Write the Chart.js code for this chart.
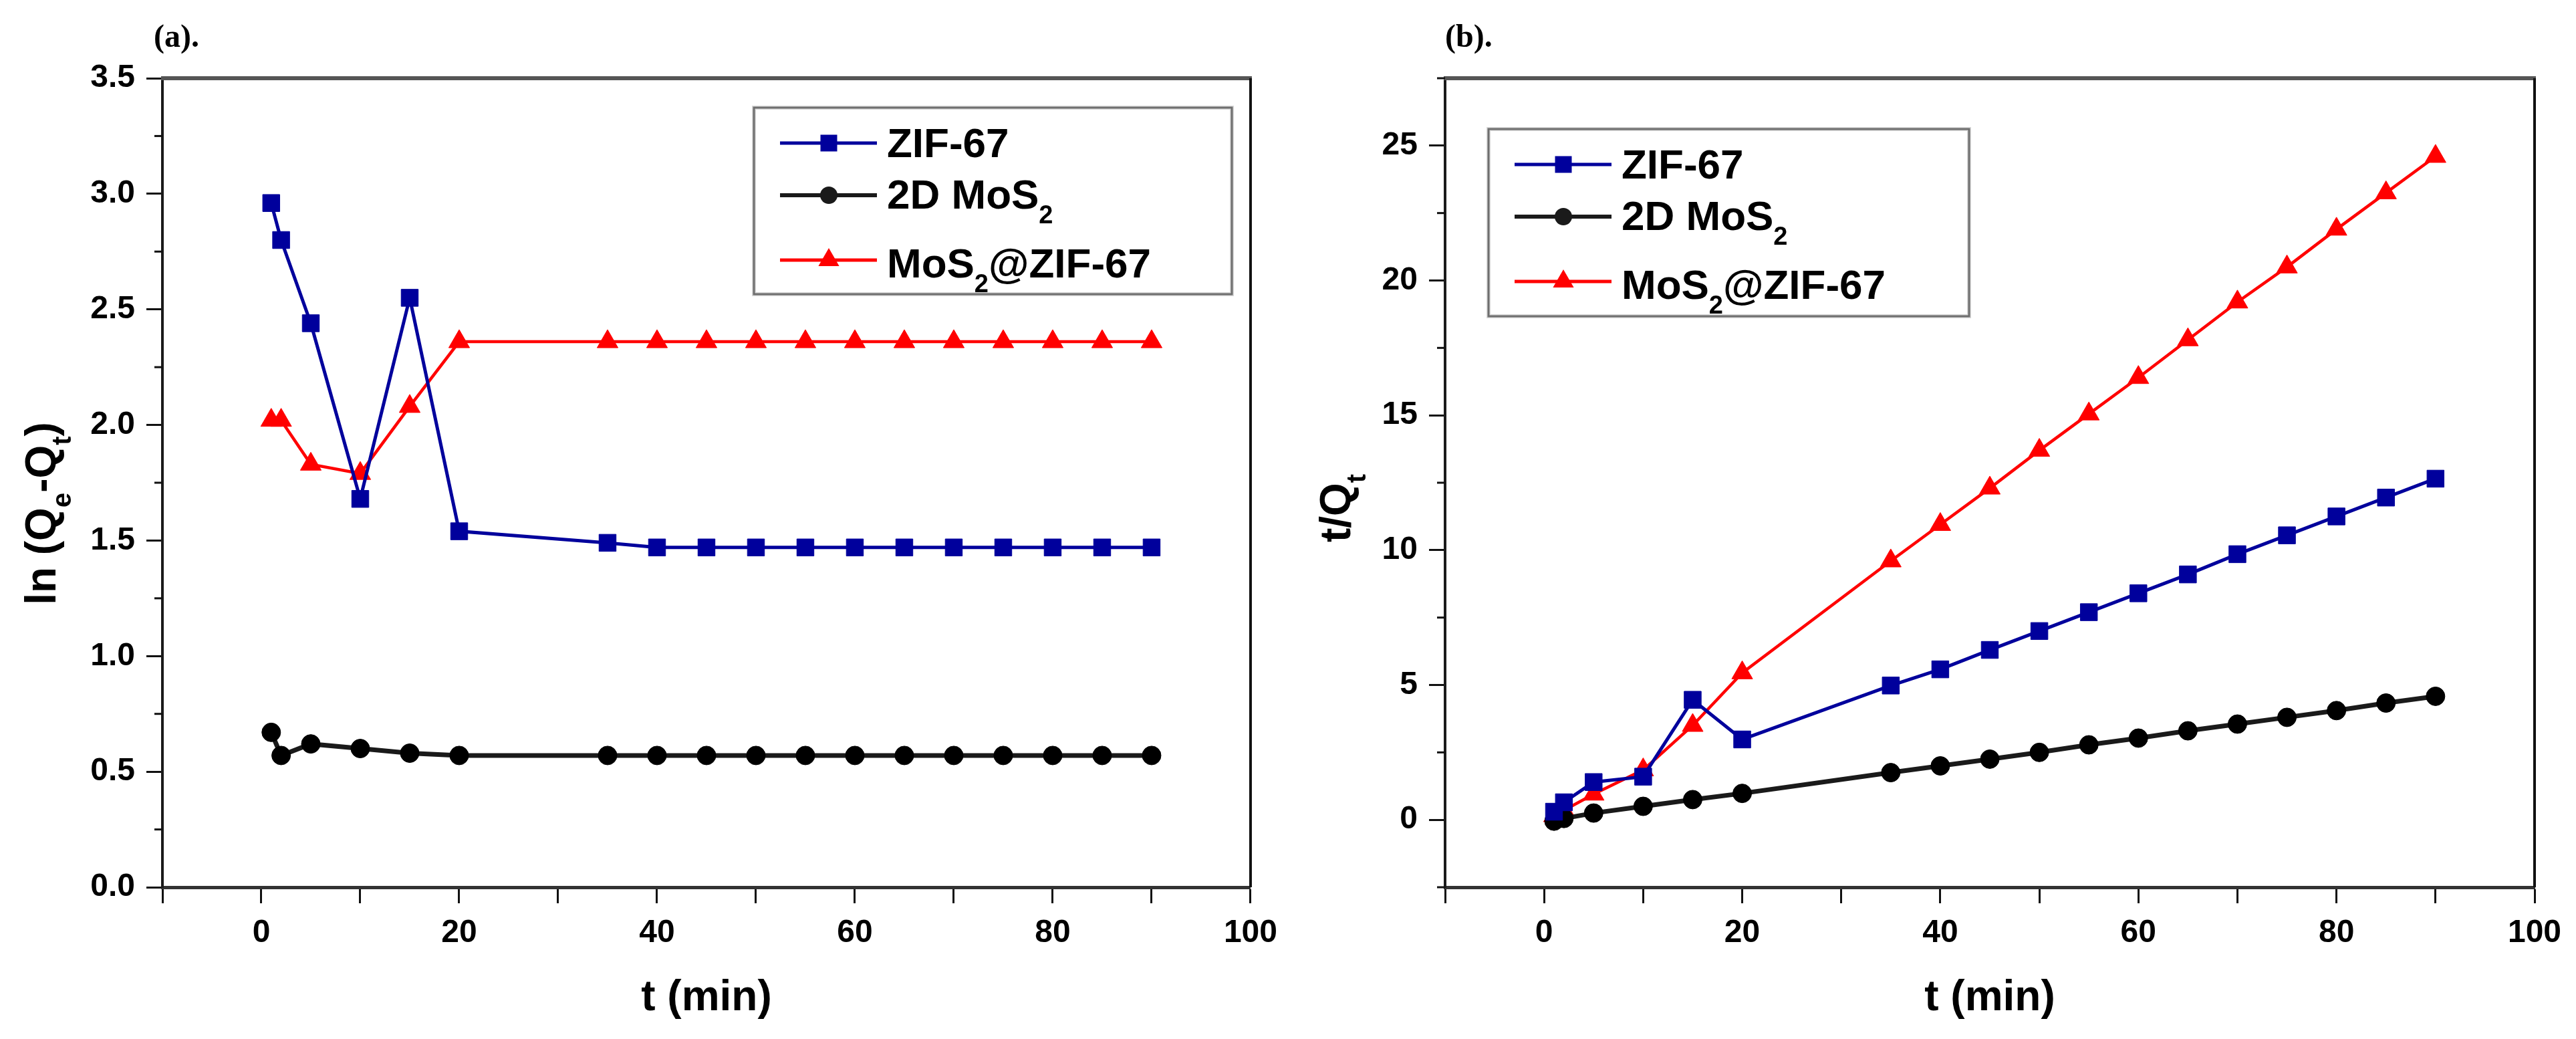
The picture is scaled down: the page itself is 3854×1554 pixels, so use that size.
<!DOCTYPE html>
<html>
<head>
<meta charset="utf-8">
<script src="https://cdn.jsdelivr.net/npm/chart.js@4.4.1/dist/chart.umd.min.js"></script>
<style>
html, body { margin: 0; padding: 0; background: #fff; }
#wrap { position: relative; width: 3854px; height: 1554px; }
canvas { position: absolute; top: 0; }
</style>
</head>
<body>
<div id="wrap">
  <canvas id="chartA" width="1927" height="1554" style="left:0"></canvas>
  <canvas id="chartB" width="1927" height="1554" style="left:1927px"></canvas>
</div>
<script>
// sampling times (min)
const times = [1, 2, 5, 10, 15, 20, 35, 40, 45, 50, 55, 60, 65, 70, 75, 80, 85, 90];

// (a) ln(Qe-Qt)
const zifA  = [2.96, 2.80, 2.44, 1.68, 2.55, 1.54, 1.49, 1.47, 1.47, 1.47, 1.47, 1.47, 1.47, 1.47, 1.47, 1.47, 1.47, 1.47];
const mos2A = [0.67, 0.57, 0.62, 0.60, 0.58, 0.57, 0.57, 0.57, 0.57, 0.57, 0.57, 0.57, 0.57, 0.57, 0.57, 0.57, 0.57, 0.57];
const compA = [2.02, 2.02, 1.83, 1.79, 2.08, 2.36, 2.36, 2.36, 2.36, 2.36, 2.36, 2.36, 2.36, 2.36, 2.36, 2.36, 2.36, 2.36];

// (b) t/Qt
const zifB  = [0.3, 0.65, 1.4, 1.6, 4.45, 2.98, 4.98, 5.58, 6.3, 7.0, 7.7, 8.4, 9.1, 9.85, 10.55, 11.25, 11.95, 12.65];
const mos2B = [-0.05, 0.05, 0.25, 0.5, 0.75, 0.98, 1.75, 2.0, 2.25, 2.5, 2.78, 3.03, 3.3, 3.55, 3.8, 4.05, 4.33, 4.58];
const compB = [0.15, 0.35, 0.95, 1.85, 3.5, 5.45, 9.6, 10.95, 12.3, 13.7, 15.05, 16.4, 17.8, 19.2, 20.5, 21.9, 23.25, 24.6];

// labels ("_x" = subscript x)
const seriesLabels = ['ZIF-67', '2D MoS_2', 'MoS_2@ZIF-67'];
const xTitle = 't (min)';
const yTitleA = 'ln (Q_e-Q_t)';
const yTitleB = 't/Q_t';

const BLUE = '#00009c';
const BLACK = '#1a1a1a';
const RED = '#ff0000';
const SANS = '"Liberation Sans", Arial, sans-serif';

function parseRich(str) {
    const segs = [];
    let buf = '';
    for (let i = 0; i < str.length; i++) {
        if (str[i] === '_' && i + 1 < str.length) {
            if (buf) segs.push({ t: buf, sub: false });
            buf = '';
            segs.push({ t: str[i + 1], sub: true });
            i++;
        } else {
            buf += str[i];
        }
    }
    if (buf) segs.push({ t: buf, sub: false });
    return segs;
}

// draws text with subscripts, baseline at y
function drawRich(ctx, str, x, y, size, align) {
    const segs = parseRich(str);
    const subSize = Math.round(size * 0.62);
    let total = 0;
    segs.forEach(s => {
        ctx.font = 'bold ' + (s.sub ? subSize : size) + 'px ' + SANS;
        s.w = ctx.measureText(s.t).width;
        total += s.w;
    });
    let cx = align === 'center' ? x - total / 2 : x;
    ctx.textAlign = 'left';
    ctx.textBaseline = 'alphabetic';
    segs.forEach(s => {
        ctx.font = 'bold ' + (s.sub ? subSize : size) + 'px ' + SANS;
        ctx.fillText(s.t, cx, y + (s.sub ? size * 0.36 : 0));
        cx += s.w;
    });
}

function drawMarker(ctx, style, x, y) {
    ctx.beginPath();
    if (style === 'rect') {
        ctx.rect(x - 12.5, y - 12.5, 25, 25);
    } else if (style === 'circle') {
        ctx.arc(x, y, 13, 0, Math.PI * 2);
    } else {
        const r = 18;
        ctx.moveTo(x, y - r);
        ctx.lineTo(x + r * Math.sin(Math.PI * 2 / 3), y + r * 0.5);
        ctx.lineTo(x - r * Math.sin(Math.PI * 2 / 3), y + r * 0.5);
        ctx.closePath();
    }
    ctx.fill();
}

function makeDecor(d) {
    return {
        id: 'decor',
        afterDraw(chart) {
            const ctx = chart.ctx;
            const a = chart.chartArea;
            const ys = chart.scales.y;
            ctx.save();
            // top and right frame
            ctx.strokeStyle = '#555';
            ctx.lineWidth = 6;
            ctx.beginPath();
            ctx.moveTo(a.left - 2, a.top);
            ctx.lineTo(a.right + 2, a.top);
            ctx.stroke();
            ctx.strokeStyle = '#111';
            ctx.lineWidth = 4;
            ctx.beginPath();
            ctx.moveTo(a.right, a.top);
            ctx.lineTo(a.right, a.bottom);
            ctx.stroke();
            // minor y ticks
            ctx.strokeStyle = '#111';
            ctx.lineWidth = 3;
            ys.ticks.forEach(t => {
                if (!d.isMajor(t.value)) {
                    const py = ys.getPixelForValue(t.value);
                    ctx.beginPath();
                    ctx.moveTo(a.left - 12, py);
                    ctx.lineTo(a.left, py);
                    ctx.stroke();
                }
            });
            // panel label
            ctx.fillStyle = '#000';
            ctx.font = 'bold 48px "Liberation Serif", "Times New Roman", serif';
            ctx.textAlign = 'left';
            ctx.textBaseline = 'alphabetic';
            ctx.fillText(d.panel, d.panelX, 70);
            // axis titles
            drawRich(ctx, xTitle, (a.left + a.right) / 2, 1511, 64, 'center');
            ctx.save();
            ctx.translate(d.yTitleX, d.yTitleY);
            ctx.rotate(-Math.PI / 2);
            drawRich(ctx, d.yTitle, 0, 0, 64, 'center');
            ctx.restore();
            // legend
            const L = d.legend;
            ctx.fillStyle = '#fff';
            ctx.fillRect(L.x, L.y, L.w, L.h);
            ctx.strokeStyle = '#d8d8d8';
            ctx.lineWidth = 6;
            ctx.strokeRect(L.x, L.y, L.w, L.h);
            ctx.strokeStyle = '#6e6e6e';
            ctx.lineWidth = 3;
            ctx.strokeRect(L.x, L.y, L.w, L.h);
            const rows = [
                { color: BLUE, style: 'rect', lw: 5, ly: 53, by: 74 },
                { color: BLACK, style: 'circle', lw: 6, ly: 131, by: 151 },
                { color: RED, style: 'triangle', lw: 5, ly: 228, by: 254 }
            ];
            rows.forEach((r, i) => {
                ctx.strokeStyle = r.color;
                ctx.lineWidth = r.lw;
                ctx.beginPath();
                ctx.moveTo(L.x + 39, L.y + r.ly);
                ctx.lineTo(L.x + 184, L.y + r.ly);
                ctx.stroke();
                ctx.fillStyle = r.color;
                drawMarker(ctx, r.style, L.x + 112, L.y + r.ly);
                ctx.fillStyle = '#000';
                drawRich(ctx, seriesLabels[i], L.x + 199, L.y + r.by, 62, 'left');
            });
            ctx.restore();
        }
    };
}

function makeChart(id, d) {
    const pts = arr => arr.map((v, i) => ({ x: times[i], y: v }));
    const tickFont = { family: SANS, size: 48, weight: 'bold' };
    return new Chart(document.getElementById(id), {
        type: 'line',
        data: {
            datasets: [
                { label: seriesLabels[0], data: pts(d.zif), borderColor: BLUE, backgroundColor: BLUE,
                  borderWidth: 5, pointStyle: 'rect', pointRadius: 18, pointBorderWidth: 1, pointBorderColor: BLUE },
                { label: seriesLabels[1], data: pts(d.mos2), borderColor: BLACK, backgroundColor: '#000',
                  borderWidth: 7, pointStyle: 'circle', pointRadius: 14, pointBorderWidth: 1, pointBorderColor: '#000' },
                { label: seriesLabels[2], data: pts(d.comp), borderColor: RED, backgroundColor: RED,
                  borderWidth: 4.5, pointStyle: 'triangle', pointRadius: 18, pointBorderWidth: 1, pointBorderColor: RED }
            ]
        },
        options: {
            responsive: false,
            animation: false,
            devicePixelRatio: 1,
            layout: { padding: { top: 117, right: d.padRight, left: 0, bottom: 0 } },
            plugins: { legend: { display: false }, tooltip: { enabled: false } },
            scales: {
                x: {
                    type: 'linear', min: -10, max: 100,
                    afterFit: s => { s.height = 227; },
                    ticks: {
                        stepSize: 10, autoSkip: false, maxRotation: 0, padding: 16,
                        color: '#000', font: tickFont,
                        callback: v => (v % 20 === 0 ? String(v) : '')
                    },
                    grid: { drawOnChartArea: false, drawTicks: true, tickLength: 24, tickWidth: 3, tickColor: '#111' },
                    border: { color: '#333', width: 5 }
                },
                y: {
                    type: 'linear', min: d.yMin, max: d.yMax,
                    afterFit: s => { s.width = d.yWidth; },
                    ticks: {
                        stepSize: d.yStep, autoSkip: false, padding: 17,
                        color: '#000', font: tickFont,
                        callback: v => (d.isMajor(v) ? d.fmt(v) : '')
                    },
                    grid: {
                        drawOnChartArea: false, drawTicks: true, tickLength: 24, tickWidth: 3,
                        tickColor: c => (c.tick && d.isMajor(c.tick.value) ? '#111' : 'rgba(0,0,0,0)')
                    },
                    border: { color: '#1a1a1a', width: 4 }
                }
            }
        },
        plugins: [makeDecor(d)]
    });
}

const near = (v, m) => Math.abs(v / m - Math.round(v / m)) < 1e-6;

makeChart('chartA', {
    zif: zifA, mos2: mos2A, comp: compA,
    yMin: 0, yMax: 3.5, yStep: 0.25,
    isMajor: v => near(v, 0.5), fmt: v => v.toFixed(1),
    yWidth: 243, padRight: 54,
    panel: '(a).', panelX: 230,
    yTitle: yTitleA, yTitleX: 83, yTitleY: 768,
    legend: { x: 1128, y: 161, w: 715, h: 279 }
});

makeChart('chartB', {
    zif: zifB, mos2: mos2B, comp: compB,
    yMin: -2.5, yMax: 27.5, yStep: 2.5,
    isMajor: v => near(v, 5), fmt: v => String(Math.round(v)),
    yWidth: 235, padRight: 62,
    panel: '(b).', panelX: 235,
    yTitle: yTitleB, yTitleX: 93, yTitleY: 760,
    legend: { x: 2227 - 1927, y: 193, w: 719, h: 280 }
});
</script>
</body>
</html>
